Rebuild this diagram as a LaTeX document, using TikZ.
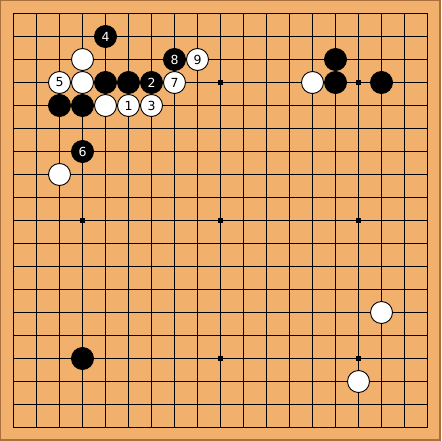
\documentclass[tikz,border=0pt]{standalone}
\usepackage{fontspec}
\setmainfont{DejaVu Sans}
\definecolor{boardcol}{RGB}{242,176,109}
\definecolor{edgecol}{RGB}{170,112,60}
\begin{document}
\begin{tikzpicture}[x=1pt,y=-1pt,
  gridline/.style={line width=1pt,black,line cap=rect},
  starpt/.style={rectangle,fill=black,minimum size=5pt,inner sep=0pt},
  stone/.style={circle,draw=black,line width=0.9pt,minimum size=22pt,inner sep=0pt,font=\fontsize{12.5}{12.5}\selectfont},
  bstone/.style={stone,fill=black,text=white},
  wstone/.style={stone,fill=white,text=black}]
\useasboundingbox (0,0) rectangle (441,441);
\fill[edgecol] (0,0) rectangle (441,441);
\fill[boardcol] (1,1) rectangle (439,439);
\foreach \i in {0,...,18}{
  \draw[gridline] (13.5,13.5+23*\i) -- (427.5,13.5+23*\i);
  \draw[gridline] (13.5+23*\i,13.5) -- (13.5+23*\i,427.5);
}
\foreach \c in {3,9,15}{
  \foreach \r in {3,9,15}{
    \node[starpt] (h-\c-\r) at (13.5+23*\c,13.5+23*\r) {};
  }
}
% black stones
\foreach \c/\r/\t in {4/1/4, 7/2/8, 4/3/, 5/3/, 6/3/2, 2/4/, 3/4/, 3/6/6, 14/2/, 14/3/, 16/3/, 3/15/}{
  \node[bstone] (s-\c-\r) at (13.5+23*\c,13.5+23*\r) {\t};
}
% white stones
\foreach \c/\r/\t in {8/2/9, 3/2/, 2/3/5, 3/3/, 7/3/7, 4/4/, 5/4/1, 6/4/3, 2/7/, 13/3/, 16/13/, 15/16/}{
  \node[wstone] (s-\c-\r) at (13.5+23*\c,13.5+23*\r) {\t};
}
\end{tikzpicture}
\end{document}
